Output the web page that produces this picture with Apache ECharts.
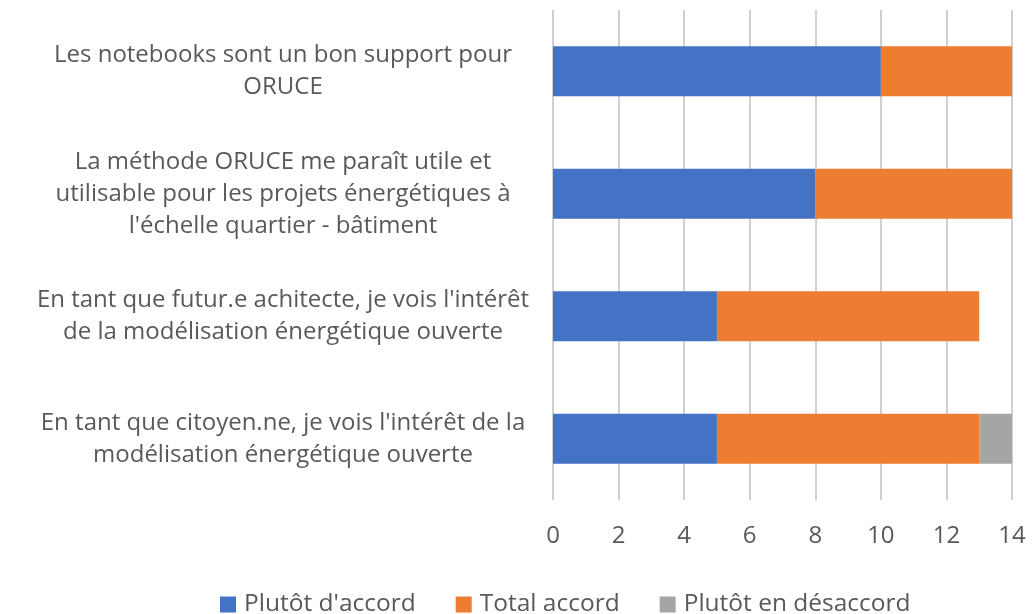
<!DOCTYPE html>
<html>
<head>
<meta charset="utf-8">
<style>
  html, body { margin: 0; padding: 0; background: #ffffff; }
  #chart { width: 1032px; height: 614px; }
</style>
<script src="https://cdn.jsdelivr.net/npm/echarts@6/dist/echarts.min.js"></script>
</head>
<body>
<div id="chart"></div>
<script>
// Survey statements, listed top to bottom
const categories = [
  "Les notebooks sont un bon support pour\nORUCE",
  "La méthode ORUCE me paraît utile et\nutilisable pour les projets énergétiques à\nl'échelle quartier - bâtiment",
  "En tant que futur.e achitecte, je vois l'intérêt\nde la modélisation énergétique ouverte",
  "En tant que citoyen.ne, je vois l'intérêt de la\nmodélisation énergétique ouverte"
];

const seriesNames = ["Plutôt d'accord", "Total accord", "Plutôt en désaccord"];
const plutotAccord = [10, 8, 5, 5];
const totalAccord = [4, 6, 8, 8];
const plutotDesaccord = [0, 0, 0, 1];
const xTicks = { min: 0, max: 14, interval: 2 };

const colors = ["#4472C4", "#ED7D31", "#A5A5A5"];
const font = "'Open Sans', 'Liberation Sans', sans-serif";
const textColor = "#595959";

const chart = echarts.init(document.getElementById("chart"), null, { renderer: "canvas" });

const values = [plutotAccord, totalAccord, plutotDesaccord];

chart.setOption({
  animation: false,
  color: colors,
  grid: { left: 553, right: 20, top: 10, bottom: 114, containLabel: false },
  legend: {
    top: 587,
    left: 215,
    itemWidth: 16,
    itemHeight: 16,
    itemGap: 40,
    icon: "rect",
    textStyle: { color: textColor, fontSize: 24.5, fontFamily: font, padding: [0, 0, 0, 3] },
    data: seriesNames
  },
  xAxis: {
    type: "value",
    min: xTicks.min,
    max: xTicks.max,
    interval: xTicks.interval,
    axisLine: { show: false },
    axisTick: { show: false },
    splitLine: { show: true, lineStyle: { color: "#D0D0D0", width: 2 } },
    axisLabel: { color: textColor, fontSize: 24, fontFamily: font, margin: 24 }
  },
  yAxis: {
    type: "category",
    inverse: true,
    data: categories,
    axisLine: { show: false },
    axisTick: { show: false },
    axisLabel: {
      color: textColor,
      fontSize: 24,
      fontFamily: font,
      lineHeight: 32,
      align: "center",
      margin: 270
    }
  },
  series: seriesNames.map((name, i) => ({
    name: name,
    type: "bar",
    stack: "total",
    barWidth: "41%",
    data: values[i]
  }))
});
</script>
</body>
</html>
